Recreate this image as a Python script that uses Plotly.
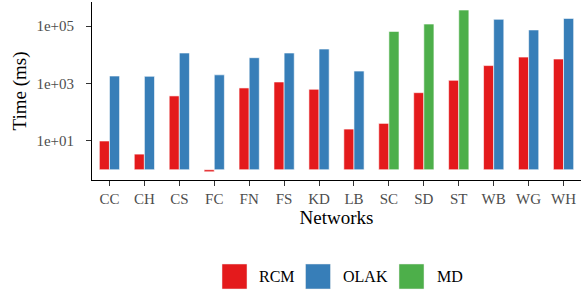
import plotly.graph_objects as go

networks = ["CC", "CH", "CS", "FC", "FN", "FS", "KD", "LB", "SC", "SD", "ST", "WB", "WG", "WH"]
rcm = [10, 3.5, 370, 0.85, 700, 1130, 630, 26, 41, 480, 1290, 4200, 8300, 7100]
olak_nets = ["CC", "CH", "CS", "FC", "FN", "FS", "KD", "LB", "WB", "WG", "WH"]
olak = [1820, 1780, 11500, 2000, 7900, 11500, 15800, 2700, 171000, 73000, 184000]
md_nets = ["SC", "SD", "ST"]
md = [65000, 117000, 360000]

colors = {"RCM": "#E41A1C", "OLAK": "#377EB8", "MD": "#4DAF4A"}
BASE = 1
FONT = "Liberation Serif"

fig = go.Figure()
fig.add_bar(x=networks, y=[v - BASE for v in rcm], base=BASE, name="RCM", offsetgroup="a",
            marker=dict(color=colors["RCM"], line=dict(color="white", width=0.6)))
fig.add_bar(x=olak_nets, y=[v - BASE for v in olak], base=BASE, name="OLAK", offsetgroup="b",
            marker=dict(color=colors["OLAK"], line=dict(color="white", width=0.6)))
fig.add_bar(x=md_nets, y=[v - BASE for v in md], base=BASE, name="MD", offsetgroup="b",
            marker=dict(color=colors["MD"], line=dict(color="white", width=0.6)))

W, H = 585, 292
L, R, T, B = 92, 4, 2, 112
pw, ph = W - L - R, H - T - B

def px(x):
    return (x - L) / pw

def py(y):
    return (H - B - y) / ph

fig.update_layout(
    width=W, height=H,
    margin=dict(l=L, r=R, t=T, b=B),
    plot_bgcolor="white", paper_bgcolor="white",
    barmode="group", bargap=0.42, bargroupgap=0.0,
    showlegend=False,
    font=dict(family=FONT, color="black"),
    xaxis=dict(
        categoryorder="array", categoryarray=networks,
        showline=True, linecolor="black", linewidth=1,
        ticks="outside", ticklen=5, tickcolor="#333", tickwidth=1,
        tickfont=dict(size=15, color="#4D4D4D", family=FONT),
        title=dict(text="Networks", font=dict(size=19, family=FONT), standoff=4),
        showgrid=False, zeroline=False,
    ),
    yaxis=dict(
        type="log", range=[-0.357, 5.835],
        tickvals=[10, 1000, 100000], ticktext=["1e+01", "1e+03", "1e+05"],
        showline=True, linecolor="black", linewidth=1,
        ticks="outside", ticklen=5, tickcolor="#333", tickwidth=1,
        tickfont=dict(size=15, color="#4D4D4D", family=FONT),
        ticklabelstandoff=9,
        title=dict(text="Time (ms)", font=dict(size=19, family=FONT), standoff=4),
        showgrid=False, zeroline=False,
    ),
)

legend_items = [("RCM", 222, 257), ("OLAK", 305.5, 341), ("MD", 399, 435)]
for name, sx, tx in legend_items:
    fig.add_shape(type="rect", xref="paper", yref="paper",
                  x0=px(sx), x1=px(sx + 25), y0=py(289), y1=py(264),
                  fillcolor=colors[name], line=dict(color="#EEEEEE", width=0.5))
    fig.add_annotation(xref="paper", yref="paper", x=px(tx), y=py(276.5),
                       text=name, showarrow=False, xanchor="left", yanchor="middle",
                       font=dict(size=16, family=FONT, color="black"))

fig.write_html("out.html", config={"displayModeBar": False},
               post_script="document.body.style.margin='0';")
